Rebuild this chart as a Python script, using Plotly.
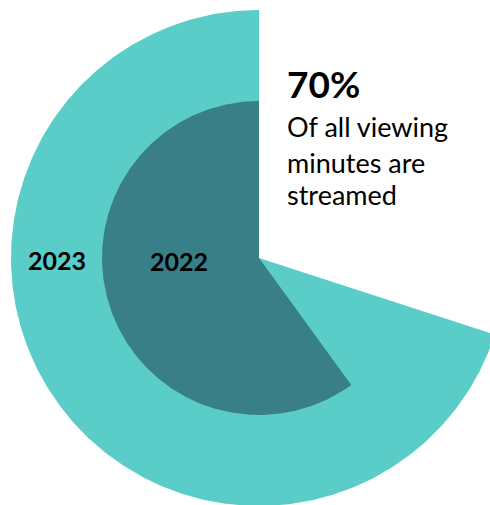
import numpy as np
import plotly.graph_objects as go

# Data
years = ["2023", "2022"]
streamed_share = [70, 60]          # percent of viewing minutes streamed
headline = "70%"
caption_lines = ["Of all viewing", "minutes are", "streamed"]

# Styles
colors = {"2023": "#5BCDC9", "2022": "#387F87"}
radii = {"2023": 248, "2022": 157}
W, H = 490, 505
CX, CY = 259, 258  # pixel position of the pie centre

fig = go.Figure()
for yr, val in zip(years, streamed_share):
    R = radii[yr]
    ang = np.radians(np.linspace(90, 90 + val / 100 * 360, 400))
    xs = np.concatenate([[0], R * np.cos(ang), [0]])
    ys = np.concatenate([[0], R * np.sin(ang), [0]])
    fig.add_trace(go.Scatter(x=xs, y=ys, mode="lines", fill="toself",
                             fillcolor=colors[yr], line=dict(width=0, color=colors[yr]),
                             hoverinfo="skip", showlegend=False))

FONT = "Lato"

def px(x, y):
    return x - CX, CY - y

# year labels
for label, (x, y) in zip(years, [(56.5, 260), (179, 261)]):
    dx, dy = px(x, y)
    fig.add_annotation(x=dx, y=dy, text=f"<b>{label}</b>", showarrow=False,
                       xanchor="center", yanchor="middle",
                       font=dict(family=FONT, size=25, color="#000000"))

# headline
dx, dy = px(285, 95 - 0.3 * 37)
fig.add_annotation(x=dx, y=dy, text=f"<b>{headline}</b>", showarrow=False,
                   xanchor="left", yanchor="middle",
                   font=dict(family=FONT, size=37, color="#000000"))

for line, base in zip(caption_lines, [135, 171, 203]):
    dx, dy = px(285, base - 0.3 * 27)
    fig.add_annotation(x=dx, y=dy, text=line, showarrow=False,
                       xanchor="left", yanchor="middle",
                       font=dict(family=FONT, size=27, color="#000000"))

fig.update_xaxes(range=[-CX, W - CX], visible=False, fixedrange=True)
fig.update_yaxes(range=[CY - H, CY], visible=False, fixedrange=True)
fig.update_layout(width=W, height=H, margin=dict(l=0, r=0, t=0, b=0),
                  paper_bgcolor="white", plot_bgcolor="white", showlegend=False)

fig.write_html("out.html")
